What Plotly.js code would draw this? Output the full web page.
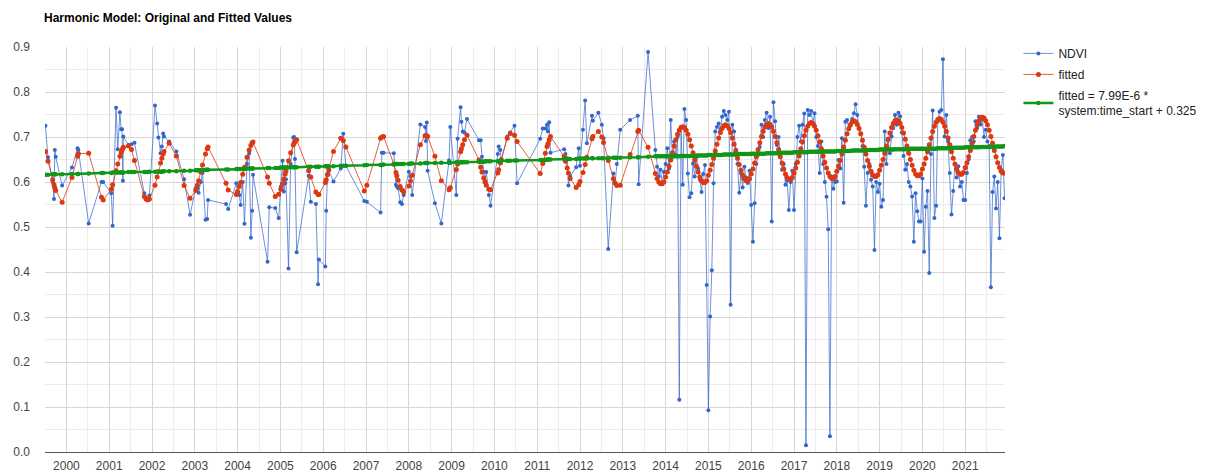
<!DOCTYPE html>
<html>
<head>
<meta charset="utf-8">
<script src="https://cdn.plot.ly/plotly-3.0.1.min.js"></script>
<style>html,body{margin:0;padding:0;background:#fff;}#chart{width:1218px;height:473px;}</style>
</head>
<body>
<div id="chart"></div>
<script>
// ---------- data (decimal years) ----------
const yearTicks = [2000,2001,2002,2003,2004,2005,2006,2007,2008,2009,2010,2011,2012,2013,2014,2015,2016,2017,2018,2019,2020,2021];
const yearLabels = ["2000","2001","2002","2003","2004","2005","2006","2007","2008","2009","2010","2011","2012","2013","2014","2015","2016","2017","2018","2019","2020","2021"];

const seriesNames = ["NDVI", "fitted", "fitted = 7.99E-6 *<br>system:time_start + 0.325"];

// sparse period (Landsat 5/7 only)
const sparseDates = [1999.51,1999.57,1999.68,1999.71,1999.73,1999.75,1999.90,2000.13,2000.26,2000.28,2000.52,2000.82,2000.86,
2001.05,2001.08,2001.16,2001.20,2001.25,2001.28,2001.30,2001.32,2001.33,2001.45,2001.52,2001.59,2001.82,2001.86,2001.90,2001.94,
2002.07,2002.12,2002.15,2002.20,2002.23,2002.26,2002.28,2002.40,2002.57,2002.75,2002.89,
2003.02,2003.06,2003.09,2003.14,2003.18,2003.25,2003.29,2003.31,2003.73,2003.78,2003.97,
2004.00,2004.04,2004.07,2004.12,2004.16,2004.22,2004.27,2004.31,2004.34,2004.36,2004.70,2004.74,2004.88,2004.96,
2005.01,2005.05,2005.08,2005.11,2005.13,2005.19,2005.24,2005.30,2005.32,2005.34,2005.38,2005.66,2005.71,2005.83,2005.88,2005.90,
2006.05,2006.07,2006.10,2006.13,2006.24,2006.41,2006.47,2006.53,2006.96,
2007.02,2007.34,2007.37,2007.41,2007.65,2007.70,2007.72,2007.75,2007.80,2007.84,2007.88,
2008.00,2008.04,2008.08,2008.27,2008.38,2008.40,2008.42,2008.44,2008.61,2008.76,2008.94,2008.97,
2009.11,2009.14,2009.21,2009.23,2009.26,2009.30,2009.36,2009.64,2009.68,2009.71,2009.75,2009.78,2009.81,2009.87,2009.91,
2010.08,2010.10,2010.14,2010.16,2010.30,2010.37,2010.47,2010.53,
2011.07,2011.13,2011.19,2011.23,2011.25,2011.28,2011.31,2011.63,2011.66,2011.70,2011.73,2011.77,2011.91,2011.97,
2012.00,2012.07,2012.12,2012.16,2012.28,2012.30,2012.43,2012.51,2012.55,2012.66,2012.78,2012.82,2012.86,2012.94,
2013.17,2013.35,2013.37,2013.59];

const sparseNdvi = [0.725,0.655,0.600,0.562,0.671,0.656,0.592,0.632,0.675,0.671,0.508,0.600,0.600,
0.575,0.503,0.765,0.673,0.755,0.717,0.717,0.603,0.701,0.682,0.684,0.687,0.575,0.565,0.560,0.570,
0.770,0.730,0.699,0.664,0.679,0.708,0.701,0.690,0.668,0.606,0.527,
0.586,0.586,0.576,0.600,0.620,0.516,0.518,0.560,0.551,0.540,0.597,
0.575,0.571,0.549,0.600,0.507,0.640,0.664,0.476,0.536,0.616,0.423,0.544,0.542,0.520,
0.590,0.647,0.579,0.597,0.606,0.408,0.640,0.699,0.700,0.651,0.444,0.614,0.556,0.551,0.373,0.428,
0.412,0.536,0.619,0.625,0.601,0.630,0.707,0.636,0.558,
0.556,0.532,0.665,0.665,0.664,0.594,0.590,0.586,0.555,0.551,0.571,
0.623,0.613,0.571,0.728,0.722,0.691,0.732,0.625,0.553,0.508,0.648,0.722,
0.571,0.696,0.766,0.734,0.712,0.710,0.740,0.693,0.693,0.656,0.623,0.602,0.622,0.571,0.547,
0.662,0.679,0.671,0.647,0.701,0.710,0.725,0.597,
0.696,0.719,0.719,0.727,0.712,0.733,0.665,0.673,0.662,0.653,0.592,0.612,0.633,0.675,
0.636,0.716,0.781,0.686,0.747,0.736,0.754,0.727,0.697,0.451,0.619,0.597,0.640,0.716,
0.738,0.747,0.595,0.889];

const sparseFitted = [0.668,0.646,0.605,0.594,0.587,0.581,0.555,0.610,0.657,0.663,0.664,0.566,0.560,
0.584,0.594,0.625,0.640,0.657,0.666,0.671,0.675,0.677,0.680,0.672,0.648,0.568,0.562,0.560,0.562,
0.593,0.611,0.623,0.642,0.653,0.662,0.668,0.686,0.658,0.592,0.564,
0.581,0.593,0.603,0.622,0.638,0.662,0.674,0.678,0.597,0.582,0.572,
0.579,0.590,0.599,0.617,0.633,0.655,0.671,0.681,0.687,0.689,0.611,0.597,0.568,0.573,
0.584,0.596,0.606,0.617,0.624,0.647,0.665,0.682,0.686,0.690,0.694,0.625,0.611,0.578,0.572,0.572,
0.599,0.605,0.616,0.627,0.668,0.697,0.692,0.678,0.580,
0.593,0.697,0.700,0.701,0.640,0.621,0.614,0.604,0.590,0.582,0.578,
0.591,0.602,0.615,0.683,0.703,0.703,0.703,0.701,0.657,0.603,0.583,0.587,
0.628,0.640,0.667,0.674,0.683,0.694,0.704,0.649,0.633,0.622,0.609,0.600,0.593,0.584,0.583,
0.620,0.627,0.642,0.650,0.697,0.708,0.704,0.690,
0.619,0.641,0.664,0.679,0.685,0.694,0.701,0.657,0.646,0.631,0.620,0.608,0.588,0.594,
0.601,0.621,0.639,0.655,0.696,0.701,0.712,0.700,0.688,0.648,0.607,0.598,0.592,0.593,
0.661,0.712,0.715,0.677];

const sparseTrend = [0.616,0.616,0.617,0.617,0.617,0.617,0.617,0.618,0.618,0.618,0.619,0.620,0.620,
0.620,0.621,0.621,0.621,0.621,0.621,0.621,0.621,0.621,0.622,0.622,0.622,0.622,0.622,0.622,0.623,
0.623,0.623,0.623,0.623,0.623,0.624,0.624,0.624,0.624,0.625,0.625,
0.626,0.626,0.626,0.626,0.626,0.627,0.627,0.627,0.628,0.628,0.629,
0.629,0.629,0.629,0.629,0.629,0.630,0.630,0.630,0.630,0.630,0.631,0.631,0.631,0.631,
0.632,0.632,0.632,0.632,0.632,0.632,0.633,0.633,0.633,0.633,0.633,0.634,0.634,0.634,0.634,0.634,
0.635,0.635,0.635,0.635,0.635,0.636,0.636,0.636,0.637,
0.638,0.638,0.638,0.639,0.639,0.640,0.640,0.640,0.640,0.640,0.640,
0.640,0.641,0.641,0.641,0.642,0.642,0.642,0.642,0.642,0.643,0.643,0.643,
0.644,0.644,0.644,0.644,0.644,0.644,0.644,0.645,0.645,0.645,0.645,0.646,0.646,0.646,0.646,
0.646,0.646,0.647,0.647,0.647,0.647,0.648,0.648,
0.649,0.649,0.649,0.650,0.650,0.650,0.650,0.651,0.651,0.651,0.651,0.651,0.651,0.652,
0.652,0.652,0.652,0.652,0.653,0.653,0.653,0.653,0.653,0.654,0.654,0.654,0.654,0.654,
0.655,0.655,0.655,0.656];

// dense period (Landsat 7 + 8)
const denseDates = [2013.76,2013.80,2013.84,2013.88,2013.92,2013.96,
2014.00,2014.04,2014.08,2014.12,2014.16,2014.20,2014.24,2014.28,2014.32,2014.36,2014.40,2014.44,2014.48,2014.52,2014.56,2014.60,2014.64,2014.68,2014.72,2014.76,2014.80,2014.84,2014.88,2014.92,2014.96,
2015.00,2015.04,2015.08,2015.12,2015.16,2015.20,2015.24,2015.28,2015.32,2015.36,2015.40,2015.44,2015.48,2015.52,2015.56,2015.60,2015.64,2015.68,2015.72,2015.76,2015.80,2015.84,2015.88,2015.92,2015.96,
2016.00,2016.04,2016.08,2016.12,2016.16,2016.20,2016.24,2016.28,2016.32,2016.36,2016.40,2016.44,2016.48,2016.52,2016.56,2016.60,2016.64,2016.68,2016.72,2016.76,2016.80,2016.84,2016.88,2016.92,2016.96,
2017.00,2017.04,2017.08,2017.12,2017.16,2017.20,2017.24,2017.28,2017.32,2017.36,2017.40,2017.44,2017.48,2017.52,2017.56,2017.60,2017.64,2017.68,2017.72,2017.76,2017.80,2017.84,2017.88,2017.92,2017.96,
2018.00,2018.04,2018.08,2018.12,2018.16,2018.20,2018.24,2018.28,2018.32,2018.36,2018.40,2018.44,2018.48,2018.52,2018.56,2018.60,2018.64,2018.68,2018.72,2018.76,2018.80,2018.84,2018.88,2018.92,2018.96,
2019.00,2019.04,2019.08,2019.12,2019.16,2019.20,2019.24,2019.28,2019.32,2019.36,2019.40,2019.44,2019.48,2019.52,2019.56,2019.60,2019.64,2019.68,2019.72,2019.76,2019.80,2019.84,2019.88,2019.92,2019.96,
2020.00,2020.04,2020.08,2020.12,2020.16,2020.20,2020.24,2020.28,2020.32,2020.36,2020.40,2020.44,2020.48,2020.52,2020.56,2020.60,2020.64,2020.68,2020.72,2020.76,2020.80,2020.84,2020.88,2020.92,2020.96,
2021.00,2021.04,2021.08,2021.12,2021.16,2021.20,2021.24,2021.28,2021.32,2021.36,2021.40,2021.44,2021.48,2021.52,2021.56,2021.60,2021.64,2021.68,2021.72,2021.76,2021.80,2021.84,2021.88,2021.92];

const denseNdvi = [0.671,0.634,0.612,0.627,0.597,0.622,
0.640,0.675,0.630,0.738,0.656,0.690,0.660,0.700,0.116,0.722,0.594,0.762,0.738,0.619,0.566,0.575,0.641,0.612,0.655,0.630,0.605,0.578,0.618,0.638,0.371,
0.093,0.301,0.404,0.597,0.712,0.722,0.730,0.716,0.745,0.758,0.749,0.738,0.756,0.327,0.727,0.712,0.672,0.640,0.576,0.619,0.588,0.634,0.610,0.598,0.625,
0.549,0.467,0.553,0.640,0.660,0.678,0.727,0.700,0.738,0.754,0.720,0.745,0.512,0.777,0.735,0.682,0.700,0.660,0.627,0.640,0.594,0.604,0.538,0.600,0.625,
0.538,0.640,0.700,0.725,0.690,0.727,0.752,0.015,0.760,0.749,0.758,0.730,0.753,0.700,0.680,0.620,0.690,0.640,0.600,0.567,0.495,0.035,0.612,0.585,0.600,
0.601,0.649,0.630,0.697,0.554,0.734,0.738,0.717,0.725,0.740,0.753,0.773,0.749,0.720,0.708,0.680,0.634,0.547,0.620,0.640,0.605,0.590,0.449,0.600,0.578,
0.596,0.545,0.560,0.712,0.640,0.693,0.664,0.701,0.720,0.749,0.727,0.754,0.746,0.710,0.658,0.627,0.640,0.600,0.590,0.568,0.467,0.575,0.535,0.512,0.512,
0.608,0.445,0.545,0.580,0.398,0.662,0.759,0.520,0.547,0.735,0.756,0.760,0.873,0.701,0.749,0.690,0.620,0.528,0.580,0.640,0.610,0.635,0.590,0.600,0.560,
0.560,0.620,0.650,0.693,0.700,0.690,0.735,0.720,0.745,0.728,0.740,0.700,0.716,0.690,0.680,0.366,0.578,0.612,0.541,0.600,0.475,0.627,0.660,0.564];

const denseFitted = [0.619,0.608,0.600,0.596,0.596,0.600,
0.611,0.622,0.635,0.649,0.665,0.680,0.694,0.706,0.715,0.721,0.723,0.721,0.715,0.706,0.694,0.680,0.665,0.649,0.635,0.622,0.611,0.603,0.599,0.599,0.603,
0.615,0.626,0.639,0.653,0.669,0.684,0.698,0.710,0.719,0.725,0.727,0.725,0.719,0.710,0.698,0.684,0.669,0.653,0.639,0.626,0.615,0.607,0.603,0.603,0.607,
0.618,0.629,0.642,0.656,0.672,0.687,0.701,0.713,0.722,0.728,0.730,0.728,0.722,0.713,0.701,0.687,0.672,0.656,0.642,0.629,0.618,0.610,0.606,0.606,0.610,
0.620,0.631,0.644,0.658,0.674,0.689,0.703,0.715,0.724,0.730,0.732,0.730,0.724,0.715,0.703,0.689,0.674,0.658,0.644,0.631,0.620,0.612,0.608,0.608,0.612,
0.624,0.635,0.648,0.662,0.678,0.693,0.707,0.719,0.728,0.734,0.736,0.734,0.728,0.719,0.707,0.693,0.678,0.662,0.648,0.635,0.624,0.616,0.612,0.612,0.616,
0.626,0.637,0.650,0.664,0.680,0.695,0.709,0.721,0.730,0.736,0.738,0.736,0.730,0.721,0.709,0.695,0.680,0.664,0.650,0.637,0.626,0.618,0.614,0.614,0.618,
0.629,0.640,0.653,0.667,0.683,0.698,0.712,0.724,0.733,0.739,0.741,0.739,0.733,0.724,0.712,0.698,0.683,0.667,0.653,0.640,0.629,0.621,0.617,0.617,0.621,
0.632,0.643,0.656,0.670,0.686,0.701,0.715,0.727,0.736,0.742,0.744,0.742,0.736,0.727,0.715,0.701,0.686,0.670,0.656,0.643,0.632,0.624,0.620,0.620];

const denseTrend = [0.657,0.657,0.657,0.657,0.657,0.657,
0.657,0.657,0.657,0.657,0.657,0.657,0.657,0.657,0.657,0.658,0.658,0.658,0.658,0.658,0.658,0.658,0.658,0.658,0.659,0.659,0.659,0.659,0.659,0.659,0.659,
0.660,0.660,0.660,0.660,0.660,0.660,0.660,0.660,0.660,0.661,0.661,0.661,0.661,0.661,0.661,0.661,0.661,0.661,0.662,0.662,0.662,0.662,0.662,0.662,0.662,
0.663,0.663,0.663,0.663,0.663,0.663,0.663,0.663,0.663,0.664,0.664,0.664,0.664,0.664,0.664,0.664,0.664,0.664,0.665,0.665,0.665,0.665,0.665,0.665,0.665,
0.666,0.666,0.666,0.666,0.666,0.666,0.666,0.666,0.666,0.667,0.667,0.667,0.667,0.667,0.667,0.667,0.667,0.667,0.668,0.668,0.668,0.668,0.668,0.668,0.668,
0.669,0.669,0.669,0.669,0.669,0.669,0.669,0.669,0.669,0.670,0.670,0.670,0.670,0.670,0.670,0.670,0.670,0.670,0.671,0.671,0.671,0.671,0.671,0.671,0.671,
0.672,0.672,0.672,0.672,0.672,0.672,0.672,0.672,0.672,0.673,0.673,0.673,0.673,0.673,0.673,0.673,0.673,0.673,0.674,0.674,0.674,0.674,0.674,0.674,0.674,
0.674,0.674,0.674,0.674,0.674,0.674,0.674,0.674,0.674,0.675,0.675,0.675,0.675,0.675,0.675,0.675,0.675,0.675,0.676,0.676,0.676,0.676,0.676,0.676,0.676,
0.677,0.677,0.677,0.677,0.677,0.677,0.677,0.677,0.677,0.678,0.678,0.678,0.678,0.678,0.678,0.678,0.678,0.678,0.679,0.679,0.679,0.679,0.679,0.680];

// ---------- chart ----------
const dates = sparseDates.concat(denseDates);
const ndvi = sparseNdvi.concat(denseNdvi);
const fitted = sparseFitted.concat(denseFitted);
const trend = sparseTrend.concat(denseTrend);

const FONT = 'Arial, "Liberation Sans", sans-serif';

const traces = [
  {x: dates, y: ndvi, name: seriesNames[0], legendgroup: 'g1', type: 'scatter', mode: 'lines+markers',
   line: {color: 'rgba(51,102,204,0.72)', width: 1}, marker: {color: '#3366cc', size: 4}},
  {x: dates, y: fitted, name: seriesNames[1], legendgroup: 'g2', type: 'scatter', mode: 'lines+markers',
   line: {color: 'rgba(220,57,18,0.8)', width: 1}, marker: {color: '#dc3912', size: 5}},
  {x: dates, y: trend, name: seriesNames[2], legendgroup: 'g3', type: 'scatter', mode: 'lines+markers',
   line: {color: '#109618', width: 2.5}, marker: {color: '#109618', size: 4.5}}
];

const layout = {
  width: 1218, height: 473,
  margin: {l: 45, r: 213, t: 47, b: 21},
  paper_bgcolor: '#ffffff', plot_bgcolor: '#ffffff',
  font: {family: FONT, size: 12, color: '#444'},
  title: {text: '<b>Harmonic Model: Original and Fitted Values</b>',
    x: 44/1218, xref: 'container', xanchor: 'left', y: 1 - 18/473, yref: 'container', yanchor: 'middle',
    font: {family: FONT, size: 12, color: '#000'}},
  showlegend: true,
  legend: {x: 1.014, xanchor: 'left', y: 1.02, yanchor: 'top', font: {family: FONT, size: 12, color: '#222'},
    bgcolor: 'rgba(0,0,0,0)', tracegroupgap: 2},
  hovermode: false,
  xaxis: {range: [1999.50, 2021.93], tickmode: 'array', tickvals: yearTicks, ticktext: yearLabels,
    showgrid: true, gridcolor: '#d6d6d6', gridwidth: 1, zeroline: false, ticks: '',
    showline: true, linecolor: '#555', linewidth: 1, ticklabelstandoff: 3,
    tickfont: {family: FONT, size: 12, color: '#444'},
    minor: {tickmode: 'linear', tick0: 2000.5, dtick: 1, showgrid: true, gridcolor: '#ececec', ticks: ''}},
  yaxis: {range: [0, 0.9], tickmode: 'linear', tick0: 0, dtick: 0.1, tickformat: '.1f',
    showgrid: true, gridcolor: '#d6d6d6', zeroline: false, ticks: '', showline: false,
    ticklabelstandoff: 14, tickfont: {family: FONT, size: 12, color: '#444'},
    minor: {tickmode: 'linear', tick0: 0.05, dtick: 0.1, showgrid: true, gridcolor: '#ececec', ticks: ''}}
};

Plotly.newPlot('chart', traces, layout, {displayModeBar: false, staticPlot: true});
</script>
</body>
</html>
